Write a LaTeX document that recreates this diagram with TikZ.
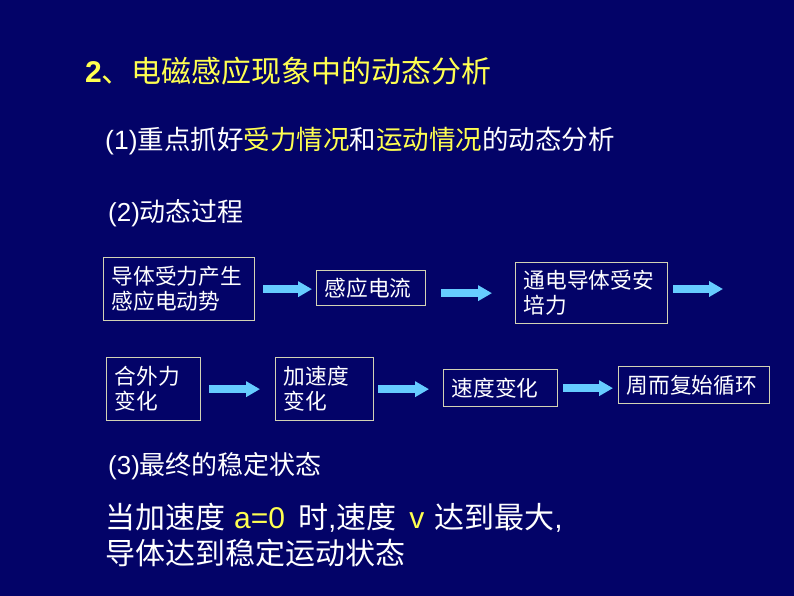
\documentclass[tikz,border=0pt]{standalone}
\usepackage{fontspec}
\setmainfont{Noto Sans CJK SC}
\newfontfamily\lat{Liberation Sans}
\usetikzlibrary{arrows.meta}

\definecolor{slidebg}{RGB}{3,3,104}
\definecolor{hiyellow}{RGB}{255,255,80}
\definecolor{flowblue}{RGB}{102,204,255}
\definecolor{boxline}{RGB}{210,210,180}
\newcommand{\hlt}[1]{\textcolor{hiyellow}{#1}}

\tikzset{
  stage/.style={draw=boxline, line width=1.3pt, text=white, anchor=north west,
    inner xsep=8pt, inner ysep=0pt, align=left, font=\fontsize{21.7}{25}\selectfont},
  flow/.style={draw=flowblue, line width=7.7pt, -{Triangle[length=14pt,width=15pt]}},
  line/.style={text=white, anchor=west, inner sep=0pt}
}

\begin{document}
\begin{tikzpicture}[x=1pt, y=-1pt]

% Background
      \fill[slidebg] (0,0) rectangle (794,596);
      \useasboundingbox (0,0) rectangle (794,596);

% Headings
      \node[line, text=hiyellow, font=\fontsize{30}{36}\selectfont] (title) at (85,71)
        {{\lat\bfseries 2}、电磁感应现象中的动态分析};
      \node[line, font=\fontsize{26.5}{32}\selectfont] (part1) at (105,141)
        {{\lat (1)}重点抓好\hlt{受力情况}和\hlt{运动情况}的动态分析};
      \node[line, font=\fontsize{26}{32}\selectfont] (part2) at (108,213)
        {{\lat (2)}动态过程};

% Process, first row
      \node[stage, text width=135pt, minimum height=63pt] (emf) at (103,257)
        {导体受力产生\\感应电动势};
      \node[stage, text width=93pt, minimum height=35pt] (current) at (316,270)
        {感应电流};
      \node[stage, text width=136pt, minimum height=61pt] (ampere) at (515,262)
        {通电导体受安\\培力};
      \coordinate (next) at (723,289);

      \draw[flow, shorten <=8pt, shorten >=4pt] (emf.east) -- (emf.east -| current.west);
      \draw[flow, shorten <=15pt, shorten >=23pt] (current.east |- ampere.west) -- (ampere.west);
      \draw[flow, shorten <=5pt] (ampere.east |- next) -- (next);

% Process, second row
      \node[stage, text width=78pt, minimum height=63pt] (force) at (106,357)
        {合外力\\变化};
      \node[stage, text width=82pt, minimum height=63pt] (accel) at (275,357)
        {加速度\\变化};
      \node[stage, text width=98pt, minimum height=37pt] (speed) at (443,369)
        {速度变化};
      \node[stage, text width=135pt, minimum height=37pt] (cycle) at (618,366)
        {周而复始循环};

      \draw[flow, shorten <=8pt, shorten >=15pt] (force.east) -- (force.east -| accel.west);
      \draw[flow, shorten <=4pt, shorten >=14pt] (accel.east) -- (accel.east -| speed.west);
      \draw[flow, shorten <=5pt, shorten >=5pt] (speed.east) -- (speed.east -| cycle.west);

% Final state
      \node[line, font=\fontsize{26}{32}\selectfont] (part3) at (108,466)
        {{\lat (3)}最终的稳定状态};
      \node[line, align=left, font=\fontsize{30}{36}\selectfont] (final) at (105,535)
        {当加速度\hspace{9pt}\hlt{\lat a=0}\hspace{13pt}时{\lat ,}速度\hspace{13pt}\hlt{\lat v}\hspace{10pt}达到最大{\lat ,}\\
         导体达到稳定运动状态};

\end{tikzpicture}
\end{document}
